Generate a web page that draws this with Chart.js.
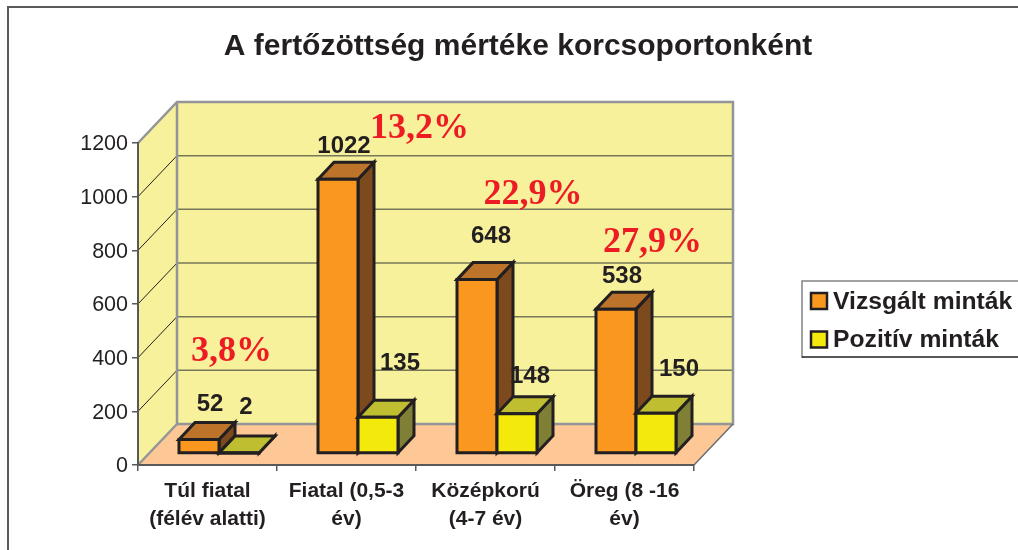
<!DOCTYPE html>
<html lang="hu">
<head>
<meta charset="UTF-8">
<title>A fertőzöttség mértéke korcsoportonként</title>
<script src="https://cdn.jsdelivr.net/npm/chart.js"></script>
<style>
    body { margin: 0; background: white; }
    canvas { display: block; }
</style>
</head>
<body>
<canvas id="myChart" width="1018" height="550"></canvas>
<script>
const categories = [['Túl fiatal', '(félév alatti)'], ['Fiatal (0,5-3', 'év)'], ['Középkorú', '(4-7 év)'], ['Öreg (8 -16', 'év)']];
const vizsgalt = [52, 1022, 648, 538];
const pozitiv = [2, 135, 148, 150];
const percents = ['3,8%', '13,2%', '22,9%', '27,9%'];
const yTicks = [0, 200, 400, 600, 800, 1000, 1200];

// hand placed labels, same as in the original picture
const percentDx = [24, 73, 47.5, 28];
const percentY = [352, 129, 195, 243];
const labelDx = [[11, 6, 14, 6], [7, 22, 13, 23]];
const labelDy = [[-35, -33, -43, -33], [-46, -54, -37, -44]];

const dark = '#231f20';
const font = '"Liberation Sans", Arial, sans-serif';
const depthX = 39, depthY = 41;      // depth of the walls
const barDx = 11.5, barDy = 11.5;    // bars stand inside the floor
const boxX = 16, boxY = 17;          // depth of a bar

const faces = [
    { front: '#f9971e', top: '#bd742a', side: '#7d4a1e' },
    { front: '#f3ea0c', top: '#bfbd30', side: '#7f7f35' }
];

function poly(ctx, pts, fill, stroke, width) {
    ctx.beginPath();
    ctx.moveTo(pts[0][0], pts[0][1]);
    for (let i = 1; i < pts.length; i++) ctx.lineTo(pts[i][0], pts[i][1]);
    if (fill) {
        ctx.closePath();
        ctx.fillStyle = fill;
        ctx.fill();
    }
    if (stroke) {
        ctx.strokeStyle = stroke;
        ctx.lineWidth = width;
        ctx.stroke();
    }
}

const scene3d = {
    id: 'scene3d',
    afterLayout(chart) {
        // title is centred on the whole picture, not on the plot
        chart.titleBlock.left = 18;
        chart.titleBlock.right = 1018;
    },
    beforeDraw(chart) {
        const ctx = chart.ctx;
        const a = chart.chartArea;
        const y = chart.scales.y;
        const l = a.left, r = a.right, t = a.top, b = a.bottom;
        ctx.save();
        ctx.fillStyle = 'white';
        ctx.fillRect(0, 0, chart.width, chart.height);

        // frame of the picture
        poly(ctx, [[8, 550], [8, 7], [1018, 7]], null, '#58595b', 2);

        // walls and floor
        poly(ctx, [[l + depthX, b - depthY], [r + depthX, b - depthY], [r, b], [l, b]], '#fdc896');
        poly(ctx, [[l, t], [l + depthX, t - depthY], [l + depthX, b - depthY], [l, b]], '#f7f19c');
        poly(ctx, [[l + depthX, t - depthY], [r + depthX, t - depthY], [r + depthX, b - depthY], [l + depthX, b - depthY]], '#f7f19c');

        // grid lines, back wall and side wall
        yTicks.slice(1).forEach(function (v) {
            const py = y.getPixelForValue(v);
            if (v < 1200) poly(ctx, [[l, py], [l + depthX, py - depthY]], null, dark, 1);
            poly(ctx, [[l + depthX, py - depthY], [r + depthX, py - depthY]], null, '#77775a', 1.5);
        });

        // edges
        const grey = '#939598';
        poly(ctx, [[l, t], [l + depthX, t - depthY], [r + depthX, t - depthY], [r + depthX, b - depthY], [l + depthX, b - depthY], [l + depthX, t - depthY]], null, grey, 2.5);
        poly(ctx, [[l, b], [l + depthX, b - depthY]], null, grey, 2.5);
        poly(ctx, [[r, b], [r + depthX, b - depthY]], null, '#6d6e71', 1.5);
        ctx.restore();
    },
    beforeDatasetDraw() {
        return false;     // the boxes below replace the flat bars
    },
    afterDatasetsDraw(chart) {
        const ctx = chart.ctx;
        ctx.save();
        ctx.lineJoin = 'miter';
        for (let c = 0; c < categories.length; c++) {
            for (let d = 0; d < 2; d++) {
                const bar = chart.getDatasetMeta(d).data[c].getProps(['x', 'y', 'base', 'width'], true);
                const x0 = bar.x - bar.width / 2 + barDx, x1 = bar.x + bar.width / 2 + barDx;
                const top = bar.y - barDy, bot = bar.base - barDy;
                const f = faces[d];
                poly(ctx, [[x1, top], [x1 + boxX, top - boxY], [x1 + boxX, bot - boxY], [x1, bot]], f.side, dark, 3);
                poly(ctx, [[x0, top], [x0 + boxX, top - boxY], [x1 + boxX, top - boxY], [x1, top]], f.top, dark, 3);
                poly(ctx, [[x0, top], [x1, top], [x1, bot], [x0, bot]], f.front, dark, 3);
            }
        }
        ctx.restore();
    },
    afterDraw(chart) {
        const ctx = chart.ctx;
        ctx.save();
        ctx.textAlign = 'center';
        ctx.textBaseline = 'middle';

        // value labels
        ctx.fillStyle = dark;
        ctx.font = 'bold 24px ' + font;
        chart.data.datasets.forEach(function (ds, d) {
            ds.data.forEach(function (v, c) {
                const bar = chart.getDatasetMeta(d).data[c].getProps(['x', 'y'], true);
                ctx.fillText(String(v), bar.x + barDx + labelDx[d][c], bar.y - barDy + labelDy[d][c]);
            });
        });

        // percentages
        ctx.fillStyle = '#ed1c24';
        ctx.font = 'bold 36px "Liberation Serif", "Times New Roman", serif';
        percents.forEach(function (p, c) {
            ctx.fillText(p, chart.scales.x.getPixelForValue(c) + percentDx[c], percentY[c]);
        });

        // legend
        poly(ctx, [[802, 358], [802, 281], [1018, 281]], null, '#808285', 1.5);
        poly(ctx, [[802, 357], [1018, 357]], null, dark, 1.5);
        ctx.textAlign = 'left';
        ctx.font = 'bold 24.7px ' + font;
        chart.data.datasets.forEach(function (ds, d) {
            const cy = 301 + d * 38.5;
            poly(ctx, [[811, cy - 8], [827, cy - 8], [827, cy + 8], [811, cy + 8]], ds.backgroundColor, dark, 2.5);
            ctx.fillStyle = dark;
            ctx.fillText(ds.label, 833, cy + 1);
        });
        ctx.restore();
    }
};

new Chart(document.getElementById('myChart'), {
    type: 'bar',
    data: {
        labels: categories,
        datasets: [
            { label: 'Vizsgált minták', data: vizsgalt, backgroundColor: faces[0].front },
            { label: 'Pozitív minták', data: pozitiv, backgroundColor: faces[1].front }
        ]
    },
    options: {
        responsive: false,
        animation: false,
        layout: { padding: { left: 18, right: 324, top: 0, bottom: 0 } },
        categoryPercentage: 80 / 139,
        barPercentage: 1,
        plugins: {
            legend: { display: false },
            tooltip: { enabled: false },
            title: {
                display: true,
                text: 'A fertőzöttség mértéke korcsoportonként',
                color: dark,
                font: { family: font, size: 30, weight: 'bold', lineHeight: 1.2 },
                padding: { top: 29, bottom: 78 }
            }
        },
        scales: {
            x: {
                afterFit: function (s) { s.height = 85; },
                grid: { drawOnChartArea: false, tickLength: 6, color: '#58595b', lineWidth: 1.5 },
                border: { color: '#58595b', width: 2 },
                ticks: {
                    color: dark,
                    padding: 6,
                    maxRotation: 0,
                    autoSkip: false,
                    font: { family: font, size: 21, weight: 'bold', lineHeight: 1.35 }
                }
            },
            y: {
                min: 0,
                max: 1200,
                afterFit: function (s) { s.width = 120; },
                afterBuildTicks: function (s) { s.ticks = yTicks.map(function (v) { return { value: v }; }); },
                grid: { drawOnChartArea: false, tickLength: 6, color: '#58595b', lineWidth: 1.5 },
                border: { color: '#58595b', width: 2 },
                ticks: {
                    color: dark,
                    padding: 4,
                    labelOffset: 1.5,
                    callback: function (v) { return String(v); },
                    font: { family: font, size: 21.5 }
                }
            }
        }
    },
    plugins: [scene3d]
});
</script>
</body>
</html>
